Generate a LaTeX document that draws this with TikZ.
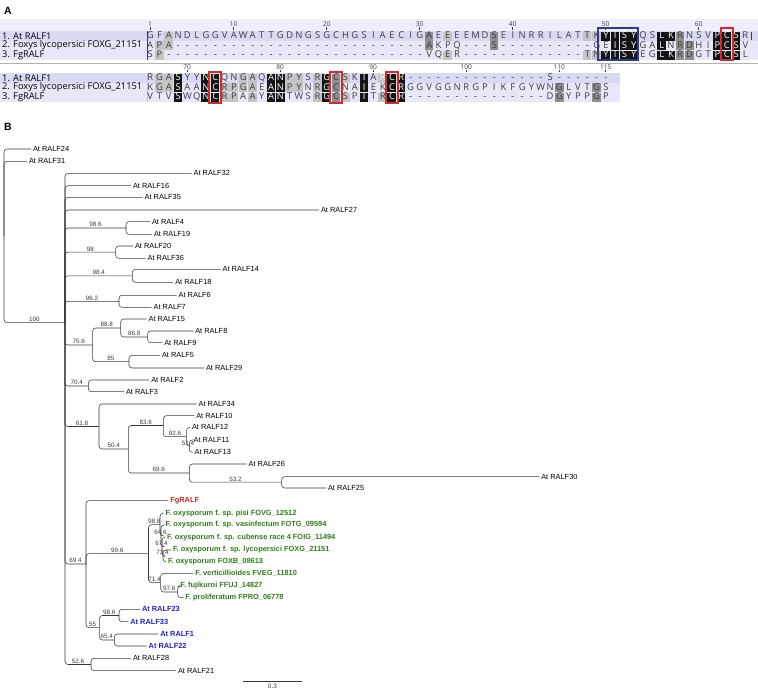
\documentclass[tikz,border=0pt]{standalone}
\usepackage{fontspec}
\setmainfont{Liberation Sans}
\newfontfamily\alnfont{Open Sans}
\usetikzlibrary{positioning}

\definecolor{bandA}{HTML}{D9D9F3}
\definecolor{bandB}{HTML}{E7E7F8}
\definecolor{bandR}{HTML}{EFEFFB}
\definecolor{cellk}{HTML}{141414}
\definecolor{celld}{HTML}{8E8E8E}
\definecolor{celll}{HTML}{C4C4C4}
\definecolor{alnink}{HTML}{3C3C3C}
\definecolor{boxred}{HTML}{D42A2A}
\definecolor{boxblue}{HTML}{2E3C8E}
\definecolor{rulblue}{HTML}{2222CC}
\definecolor{fusgreen}{HTML}{2F7D1A}
\definecolor{atblue}{HTML}{1E1ED2}
\definecolor{fgred}{HTML}{D42020}
\definecolor{treeline}{HTML}{3A3A3A}

% one residue per fixed-width cell; lower case = residue on a black cell
\newcommand\rescell[1]{\ifnum`#1>96 \makebox[9.3pt]{\textcolor{white}{\uppercase{#1}}}\else\makebox[9.3pt]{#1}\fi}
\newcommand\spaced[1]{\spacedstep#1\relax}
\def\spacedstep#1{\ifx#1\relax\else\rescell{#1}\expandafter\spacedstep\fi}
\newcount\gapn
\newcommand\gaps[1]{\gapn=#1\relax\loop\ifnum\gapn>0 \makebox[9.3pt]{-}\advance\gapn-1 \repeat}

\begin{document}
\begin{tikzpicture}[
  x=1pt, y=-1pt,
  panel/.style={font=\bfseries\fontsize{10.5}{11}\selectfont, inner sep=0pt},
  rowlab/.style={anchor=west, inner sep=0pt, font=\alnfont\fontsize{9.3}{10}\selectfont},
  seqtxt/.style={anchor=west, inner sep=0pt, text=alnink, font=\alnfont\fontsize{9.4}{10}\selectfont},
  rulnum/.style={inner sep=0pt, text=alnink, font=\alnfont\fontsize{6.6}{7}\selectfont},
  tick/.style={alnink, line width=0.5pt},
  lcell/.style={fill=celll, minimum width=8.7pt, minimum height=9pt, inner sep=0pt},
  dcell/.style={fill=celld, minimum width=8.7pt, minimum height=9pt, inner sep=0pt},
  kcell/.style={fill=cellk, minimum width=8.7pt, minimum height=9pt, inner sep=0pt},
  redbox/.style={draw=boxred, line width=1.8pt, minimum width=12pt, inner sep=0pt},
  bluebox/.style={draw=boxblue, line width=1.5pt, inner sep=0pt},
  br/.style={treeline, line width=0.55pt, rounded corners=3pt},
  tip/.style={anchor=west, inner sep=1.8pt, font=\fontsize{7.4}{8}\selectfont},
  fus/.style={tip, text=fusgreen, font=\bfseries\fontsize{7.4}{8}\selectfont},
  atb/.style={tip, text=atblue, font=\bfseries\fontsize{7.4}{8}\selectfont},
  bs/.style={pos=0.75, above, inner sep=0.8pt, font=\fontsize{6.3}{7}\selectfont}
]
\path[use as bounding box] (0,0) rectangle (758,694);

%% ---------------- A: alignment ----------------
\node[panel] (pA) at (8,11) {A};

% block 1 bands
\fill[bandR] (0,19) rectangle (758,31);
\fill[bandA] (0,31) rectangle (758,40.5);
\fill[bandB] (0,40.5) rectangle (758,50);
\fill[bandB] (0,50) rectangle (758,59.5);
\fill[boxblue] (146.6,31) rectangle (148.4,59.5);
\draw[gray!60, line width=0.7pt] (0,63.5) -- (758,63.5);

\node[rowlab] (l1a) at (2,36) {1. At RALF1};
\node[rowlab] (l2a) at (2,45.5) {2. Foxys lycopersici FOXG\_21151};
\node[rowlab] (l3a) at (2,55) {3. FgRALF};

% ruler 1
\node[rulnum, text=rulblue] (t1) at (150,24.5) {1};
\draw[tick] (t1.south) -- ++(0,2.5);
\foreach \c in {10,20,30,40,50,60}{
  \node[rulnum] (t\c) at ({150+(\c-1)*9.3},24.5) {\c};
  \draw[tick] (t\c.south) -- ++(0,2.5);
}

% shading, block 1
\foreach \c in {3,33,48,49} \node[lcell] at ({150+(\c-1)*9.3},36) {};
\foreach \c in {31,38,58} \node[dcell] at ({150+(\c-1)*9.3},36) {};
\foreach \c in {50,51,52,53,56,57,62,63,64} \node[kcell] at ({150+(\c-1)*9.3},36) {};
\foreach \c in {2,3} \node[lcell] at ({150+(\c-1)*9.3},45.5) {};
\foreach \c in {31,38,58,59} \node[dcell] at ({150+(\c-1)*9.3},45.5) {};
\foreach \c in {51,52,53,56,62,63,64} \node[kcell] at ({150+(\c-1)*9.3},45.5) {};
\foreach \c in {2,33,48,49} \node[lcell] at ({150+(\c-1)*9.3},55) {};
\foreach \c in {58,59} \node[dcell] at ({150+(\c-1)*9.3},55) {};
\foreach \c in {50,51,52,53,56,57,62,63,64} \node[kcell] at ({150+(\c-1)*9.3},55) {};

\node[seqtxt] (s1a) at (145.35,36) {\spaced{GFANDLGGVAWATTGDNGSGCHGSIAECIGAEEEEMDSEINRRILATTKyisyQSlkRNSVpcsR}};
\node[seqtxt] (s2a) at (145.35,45.5) {\spaced{APA}\gaps{27}\spaced{AKPQ}\gaps{3}\spaced{S}\gaps{10}\spaced{GEisyGAlNRDHIpcsV}};
\node[seqtxt] (s3a) at (145.35,55) {\spaced{SP}\gaps{28}\spaced{VQER}\gaps{13}\spaced{TNyisyEGlkRDGTpcsL}};
\fill[alnink] (750.6,31.5) rectangle (752,40);

\node[bluebox, minimum width=40pt, minimum height=32pt] (motif) at (618,44) {};
\node[redbox, minimum height=32pt] (cys1) at ({150+62*9.3},44) {};

% block 2 bands
\fill[bandA] (0,73) rectangle (620,82.5);
\fill[bandB] (0,82.5) rectangle (620,92);
\fill[bandB] (0,92) rectangle (620,101.5);
\fill[gray!45] (146.6,73) rectangle (148,101.5);

\node[rowlab] (l1b) at (2,78) {1. At RALF1};
\node[rowlab] (l2b) at (2,87.5) {2. Foxys lycopersici FOXG\_21151};
\node[rowlab] (l3b) at (2,97) {3. FgRALF};

% ruler 2
\foreach \c/\n in {5/70,15/80,25/90,35/100,45/110,50/115}{
  \node[rulnum] (u\n) at ({150+(\c-1)*9.3},67) {\n};
  \draw[tick] (u\n.south) -- ++(0,2.5);
}

% shading, block 2
\foreach \c in {2,3,11,12,16,17,19,22,26} \node[lcell] at ({150+(\c-1)*9.3},78) {};
\foreach \c in {21} \node[dcell] at ({150+(\c-1)*9.3},78) {};
\foreach \c in {2,3,9,10,11,12,16,17,19} \node[lcell] at ({150+(\c-1)*9.3},87.5) {};
\foreach \c in {21,45,49} \node[dcell] at ({150+(\c-1)*9.3},87.5) {};
\foreach \c in {9,10,12,19,22,26} \node[lcell] at ({150+(\c-1)*9.3},97) {};
\foreach \c in {21,45,49} \node[dcell] at ({150+(\c-1)*9.3},97) {};
\foreach \y in {78,87.5,97}{
  \foreach \c in {4,7,8,14,15,20,24,27,28}
    \node[kcell] at ({150+(\c-1)*9.3},\y) {};
}

\node[seqtxt] (s1b) at (145.35,78) {\spaced{RGAsYYncQNGAQanPYSRgCSKiArcr}\gaps{15}\spaced{S}\gaps{6}};
\node[seqtxt] (s2b) at (145.35,87.5) {\spaced{KGAsAAncRPGAEanPYNRgCNAiEKcrGGVGGNRGPIKFGYWNGLVTGS}};
\node[seqtxt] (s3b) at (145.35,97) {\spaced{VTVsWQncRPAAYanTWSRgCSPiTRcr}\gaps{15}\spaced{DGYPPGP}};

\node[redbox, minimum height=31pt] (cys2) at ({150+7*9.3},87.5) {};
\node[redbox, minimum height=31pt] (cys3) at ({150+20*9.3},87.5) {};
\node[redbox, minimum height=31pt] (cys4) at ({150+26*9.3},87.5) {};

%% ---------------- B: tree ----------------
\node[panel] (pB) at (8,127) {B};

% internal nodes
\coordinate (root)  at (4,236);
\coordinate (n100)  at (65,322.7);
\coordinate (n986)  at (126,228);
\coordinate (n98)   at (115.7,252.2);
\coordinate (n984)  at (132.3,275.8);
\coordinate (n962)  at (119,301.3);
\coordinate (n756)  at (92.7,345);
\coordinate (n888)  at (120.7,328);
\coordinate (n868)  at (147.7,337);
\coordinate (n85)   at (129,361.7);
\coordinate (n704)  at (88.3,386);
\coordinate (n618)  at (99,426.5);
\coordinate (n504)  at (128.3,449);
\coordinate (n836)  at (163.3,425.5);
\coordinate (n926)  at (186.7,436.7);
\coordinate (n514)  at (189.3,446.2);
\coordinate (n696)  at (189.3,473);
\coordinate (n532)  at (281.7,482.2);
\coordinate (n694)  at (86,564);
\coordinate (n996)  at (148.5,553.6);
\coordinate (n988)  at (160,524.6);
\coordinate (n646)  at (161,535.8);
\coordinate (n674)  at (162,546.7);
\coordinate (n734)  at (163,556);
\coordinate (n714)  at (160.7,582.6);
\coordinate (n976)  at (177.7,592);
\coordinate (n55)   at (99.3,627.7);
\coordinate (n986b) at (119,615.5);
\coordinate (n654)  at (114.3,640);
\coordinate (n526)  at (91,664.5);

% leaves
\node[tip] (r24) at (31,149) {At RALF24};
\node[tip] (r31) at (27,161.3) {At RALF31};
\node[tip] (r32) at (191.7,173.3) {At RALF32};
\node[tip] (r16) at (131,185.7) {At RALF16};
\node[tip] (r35) at (142.7,197.3) {At RALF35};
\node[tip] (r27) at (319,210) {At RALF27};
\node[tip] (r4)  at (150,221.7) {At RALF4};
\node[tip] (r19) at (152,234.3) {At RALF19};
\node[tip] (r20) at (133,246) {At RALF20};
\node[tip] (r36) at (145.7,258.3) {At RALF36};
\node[tip] (r14) at (220.7,269.3) {At RALF14};
\node[tip] (r18) at (173.3,282.3) {At RALF18};
\node[tip] (r6)  at (176.7,295.3) {At RALF6};
\node[tip] (r7)  at (151.7,307.3) {At RALF7};
\node[tip] (r15) at (146.7,319) {At RALF15};
\node[tip] (r8)  at (193.3,331) {At RALF8};
\node[tip] (r9)  at (162.3,342.7) {At RALF9};
\node[tip] (r5)  at (160,355.3) {At RALF5};
\node[tip] (r29) at (204,368) {At RALF29};
\node[tip] (r2)  at (149.3,380) {At RALF2};
\node[tip] (r3)  at (124,391.7) {At RALF3};
\node[tip] (r34) at (196.7,404) {At RALF34};
\node[tip] (r10) at (194.3,415.7) {At RALF10};
\node[tip] (r12) at (190,427.3) {At RALF12};
\node[tip] (r11) at (191.7,440) {At RALF11};
\node[tip] (r13) at (192.7,452.3) {At RALF13};
\node[tip] (r26) at (246.7,464) {At RALF26};
\node[tip] (r30) at (539.3,476.7) {At RALF30};
\node[tip] (r25) at (326,488) {At RALF25};
\node[tip, text=fgred, font=\bfseries\fontsize{7.4}{8}\selectfont] (fg) at (168.3,500.7) {FgRALF};
\node[fus] (fpisi) at (163.5,513.3) {F. oxysporum f. sp. pisi FOVG\_12512};
\node[fus] (fvas)  at (163.5,525) {F. oxysporum f. sp. vasinfectum FOTG\_09594};
\node[fus] (fcub)  at (165,537.3) {F. oxysporum f. sp. cubense race 4 FOIG\_11494};
\node[fus] (flyc)  at (171,550) {F. oxysporum f. sp. lycopersici FOXG\_21151};
\node[fus] (foxb)  at (166,561.7) {F. oxysporum FOXB\_08613};
\node[fus] (fvert) at (193.3,573.3) {F. verticillioides FVEG\_11810};
\node[fus] (ffuji) at (178.3,586) {F. fujikuroi FFUJ\_14827};
\node[fus] (fprol) at (183.3,597.7) {F. proliferatum FPRO\_06778};
\node[atb] (r23) at (140,609.3) {At RALF23};
\node[atb] (r33) at (128.3,621.7) {At RALF33};
\node[atb] (r1)  at (158.3,634) {At RALF1};
\node[atb] (r22) at (146.7,646) {At RALF22};
\node[tip] (r28) at (131,658.3) {At RALF28};
\node[tip] (r21) at (176,670.7) {At RALF21};

% branches
\draw[br] (root) |- (r24.west);
\draw[br] (root) |- (r31.west);
\draw[br] (root) |- node[bs] {100} (n100);

\draw[br] (n100) |- (r32.west);
\draw[br] (n100) |- (r16.west);
\draw[br] (n100) |- (r35.west);
\draw[br] (n100) |- (r27.west);
\draw[br] (n100) |- node[bs] {98.6} (n986);
\draw[br] (n100) |- node[bs] {98} (n98);
\draw[br] (n100) |- node[bs] {98.4} (n984);
\draw[br] (n100) |- node[bs] {96.2} (n962);
\draw[br] (n100) |- node[bs] {75.6} (n756);
\draw[br] (n100) |- node[bs] {70.4} (n704);
\draw[br] (n100) |- node[bs] {61.8} (n618);
\draw[br] (n100) |- node[bs] {69.4} (n694);
\draw[br] (n100) |- node[bs] {52.6} (n526);

\draw[br] (n986) |- (r4.west);
\draw[br] (n986) |- (r19.west);
\draw[br] (n98) |- (r20.west);
\draw[br] (n98) |- (r36.west);
\draw[br] (n984) |- (r14.west);
\draw[br] (n984) |- (r18.west);
\draw[br] (n962) |- (r6.west);
\draw[br] (n962) |- (r7.west);

\draw[br] (n756) |- node[bs] {88.8} (n888);
\draw[br] (n756) |- node[bs] {85} (n85);
\draw[br] (n888) |- (r15.west);
\draw[br] (n888) |- node[bs] {86.8} (n868);
\draw[br] (n868) |- (r8.west);
\draw[br] (n868) |- (r9.west);
\draw[br] (n85) |- (r5.west);
\draw[br] (n85) |- (r29.west);

\draw[br] (n704) |- (r2.west);
\draw[br] (n704) |- (r3.west);

\draw[br] (n618) |- (r34.west);
\draw[br] (n618) |- node[bs] {50.4} (n504);
\draw[br] (n504) |- node[bs] {83.6} (n836);
\draw[br] (n504) |- node[bs] {69.6} (n696);
\draw[br] (n836) |- (r10.west);
\draw[br] (n836) |- node[bs] {92.6} (n926);
\draw[br] (n926) |- (r12.west);
\draw[br] (n926) |- node[bs] {51.4} (n514);
\draw[br] (n514) |- (r11.west);
\draw[br] (n514) |- (r13.west);
\draw[br] (n696) |- (r26.west);
\draw[br] (n696) |- node[bs] {53.2} (n532);
\draw[br] (n532) |- (r30.west);
\draw[br] (n532) |- (r25.west);

\draw[br] (n694) |- (fg.west);
\draw[br] (n694) |- node[bs] {99.6} (n996);
\draw[br] (n694) |- node[bs] {55} (n55);
\draw[br] (n996) |- node[bs] {98.8} (n988);
\draw[br] (n996) |- node[bs] {71.4} (n714);
\draw[br] (n988) |- (fpisi.west);
\draw[br] (n988) |- node[bs] {64.6} (n646);
\draw[br] (n646) |- (fvas.west);
\draw[br] (n646) |- node[bs] {67.4} (n674);
\draw[br] (n674) |- (fcub.west);
\draw[br] (n674) |- node[bs] {73.4} (n734);
\draw[br] (n734) |- (flyc.west);
\draw[br] (n734) |- (foxb.west);
\draw[br] (n714) |- (fvert.west);
\draw[br] (n714) |- node[bs] {97.6} (n976);
\draw[br] (n976) |- (ffuji.west);
\draw[br] (n976) |- (fprol.west);

\draw[br] (n55) |- node[bs] {98.6} (n986b);
\draw[br] (n55) |- node[bs] {65.4} (n654);
\draw[br] (n986b) |- (r23.west);
\draw[br] (n986b) |- (r33.west);
\draw[br] (n654) |- (r1.west);
\draw[br] (n654) |- (r22.west);

\draw[br] (n526) |- (r28.west);
\draw[br] (n526) |- (r21.west);

% scale bar
\coordinate (sbl) at (243.3,681.3);
\coordinate (sbr) at (301.7,681.3);
\draw[treeline, line width=0.55pt] (sbl) -- node[below, inner sep=2pt, font=\fontsize{6.5}{7}\selectfont] (sbt) {0.3} (sbr);
\end{tikzpicture}
\end{document}
